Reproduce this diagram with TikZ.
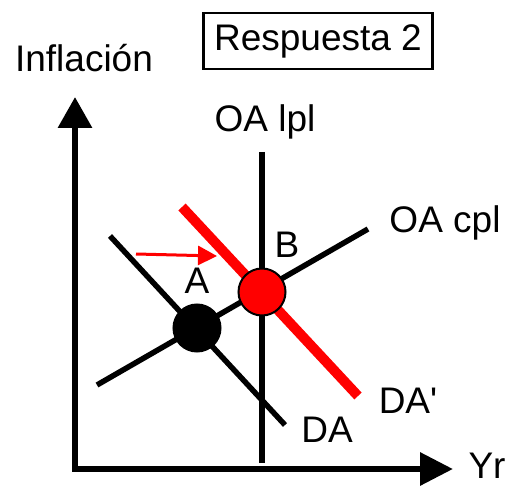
\documentclass[tikz,border=0pt]{standalone}
\usepackage{fontspec}
\setmainfont{Liberation Sans}
\usetikzlibrary{positioning,arrows.meta}

\begin{document}
\begin{tikzpicture}[x=1pt,y=1pt,
        lbl/.style={anchor=base,inner sep=0pt,font=\fontsize{37}{44}\selectfont},
        curve/.style={line width=5.5pt},
        dot/.style={circle,draw,line width=2pt,minimum size=47pt,inner sep=0pt}]
            \useasboundingbox (0,0) rectangle (519,488);
            \coordinate (O) at (75,19);
            \coordinate (ytip) at (75,391);
            \coordinate (xtip) at (453,19);
            \coordinate (lpl1) at (262,336);
            \coordinate (lpl2) at (262,25);
            \coordinate (cpl1) at (97,103);
            \coordinate (cpl2) at (368,259);
            \coordinate (da1) at (110,252);
            \coordinate (da2) at (285,63);
            \coordinate (dap1) at (182,281);
            \coordinate (dap2) at (358,92);
            \coordinate (s1) at (136,234);
            \coordinate (s2) at (217,232);

            \node [lbl] (infl) at (84,416) {Inflación};
            \node [draw,line width=2.5pt,minimum width=229pt,minimum height=56pt,inner sep=0pt,font=\fontsize{37}{44}\selectfont] (title) at (318,447) {Respuesta 2};
            \node [lbl] (lpl) at (265,356) {OA lpl};
            \node [lbl] (cpl) at (445,256) {OA cpl};
            \node [lbl] (lblB) at (287,231) {B};
            \node [lbl] (lblA) at (197,195) {A};
            \node [lbl] (lblDA) at (327,46) {DA};
            \node [lbl] (lblDAp) at (408,75) {DA\textquotesingle};
            \node [lbl] (yr) at (487,10) {Yr};

            \draw [line width=6.3pt,line join=miter,{Triangle[length=31pt,width=33pt]}-{Triangle[length=33pt,width=32pt]}] (ytip) -- (O) -- (xtip);
            \draw [curve] (lpl1) -- (lpl2);
            \draw [curve] (cpl1) -- (cpl2);
            \draw [curve] (da1) -- (da2);
            \draw [red,line width=10pt] (dap1) -- (dap2);
            \draw [red,line width=3pt,-{Triangle[length=19pt,width=19pt]}] (s1) -- (s2);
            \node [dot,fill=black] (A) at (197,160) {};
            \node [dot,fill=red] (B) at (262,196) {};
        \end{tikzpicture}
\end{document}
